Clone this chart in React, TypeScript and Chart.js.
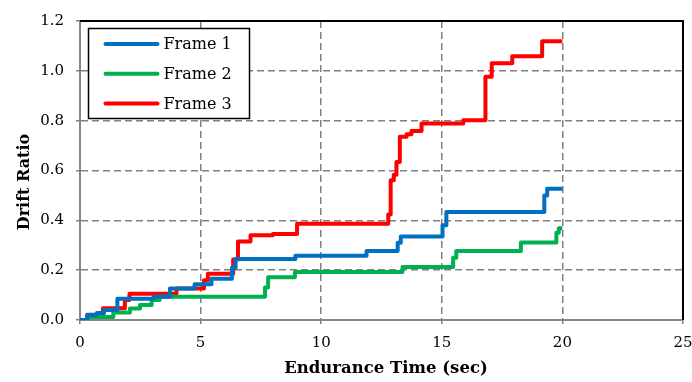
import { useEffect, useRef } from "react";
import { Chart, registerables } from "chart.js";

Chart.register(...registerables);

// ---- data ----
const seriesLabels = ["Frame 1", "Frame 2", "Frame 3"];
const seriesColors = ["#0070C0", "#00B050", "#FF0000"];

const frame1Times = [0, 0.3, 0.7, 1.0, 1.55, 3.05, 3.73, 4.75, 5.45, 6.3, 6.45, 8.93, 11.88, 13.17, 13.3, 15.03, 15.19, 19.25, 19.37, 20.0];
const frame1Values = [0, 0.02, 0.028, 0.04, 0.085, 0.093, 0.126, 0.143, 0.166, 0.21, 0.245, 0.258, 0.277, 0.31, 0.335, 0.38, 0.433, 0.5, 0.527, 0.527];

const frame2Times = [0, 0.3, 1.38, 2.07, 2.49, 2.97, 3.3, 7.67, 7.8, 8.91, 13.37, 15.47, 15.6, 18.28, 19.75, 19.85, 20.0];
const frame2Values = [0, 0.012, 0.03, 0.046, 0.06, 0.08, 0.093, 0.13, 0.172, 0.193, 0.213, 0.25, 0.277, 0.311, 0.35, 0.368, 0.368];

const frame3Times = [0, 0.3, 0.95, 1.86, 2.05, 4.0, 5.14, 5.3, 6.35, 6.55, 7.07, 8.0, 9.0, 12.78, 12.88, 13.01, 13.12, 13.26, 13.54, 13.74, 14.16, 15.89, 16.81, 17.07, 17.92, 19.16, 20.0];
const frame3Values = [0, 0.021, 0.047, 0.08, 0.105, 0.126, 0.16, 0.186, 0.243, 0.315, 0.34, 0.345, 0.386, 0.423, 0.561, 0.583, 0.634, 0.735, 0.745, 0.759, 0.789, 0.802, 0.976, 1.03, 1.059, 1.119, 1.119];

const xAxisMin = 0;
const xAxisMax = 25;
const xAxisStep = 5;
const yAxisMin = 0;
const yAxisMax = 1.2;
const yAxisStep = 0.2;
const xTitle = "Endurance Time (sec)";
const yTitle = "Drift Ratio";

const toPoints = (ts: number[], vs: number[]) => ts.map((t, i) => ({ x: t, y: vs[i] }));

const SERIF = '"DejaVu Serif", "Liberation Serif", serif';

const frameAndLegend = {
  id: "frameAndLegend",
  afterDraw(chart: any) {
    const { ctx, chartArea } = chart;
    ctx.save();
    // top and right black border
    ctx.strokeStyle = "#000";
    ctx.lineWidth = 2;
    ctx.beginPath();
    ctx.moveTo(chartArea.left, chartArea.top);
    ctx.lineTo(chartArea.right, chartArea.top);
    ctx.lineTo(chartArea.right, chartArea.bottom);
    ctx.stroke();

    // axis titles
    ctx.fillStyle = "#000";
    ctx.textAlign = "center";
    ctx.textBaseline = "middle";
    ctx.font = `bold 16.5px ${SERIF}`;
    ctx.fillText(xTitle, chartArea.left + 306, chartArea.bottom + 49);
    ctx.save();
    ctx.translate(24.5, chartArea.top + 161);
    ctx.rotate(-Math.PI / 2);
    ctx.font = `bold 16px ${SERIF}`;
    ctx.fillText(yTitle, 0, 0);
    ctx.restore();

    // legend inside plot area
    const x0 = chartArea.left + 8.5;
    const y0 = chartArea.top + 7.5;
    const w = 161;
    const h = 90;
    ctx.fillStyle = "#fff";
    ctx.fillRect(x0, y0, w, h);
    ctx.strokeStyle = "#000";
    ctx.lineWidth = 1.5;
    ctx.strokeRect(x0, y0, w, h);
    chart.data.datasets.forEach((ds: any, i: number) => {
      const y = y0 + 15.5 + i * 29.7;
      ctx.strokeStyle = ds.borderColor;
      ctx.lineWidth = 4;
      ctx.lineCap = "round";
      ctx.beginPath();
      ctx.moveTo(x0 + 17, y);
      ctx.lineTo(x0 + 69, y);
      ctx.stroke();
      ctx.fillStyle = "#000";
      ctx.font = `16px ${SERIF}`;
      ctx.textBaseline = "middle";
      ctx.textAlign = "left";
      ctx.fillText(ds.label, x0 + 75, y + 1);
    });
    ctx.restore();
  },
};

export default function App() {
  const canvasRef = useRef<HTMLCanvasElement | null>(null);

  useEffect(() => {
    if (!canvasRef.current) return;
    const series = [
      toPoints(frame1Times, frame1Values),
      toPoints(frame2Times, frame2Values),
      toPoints(frame3Times, frame3Values),
    ];
    const chart = new Chart(canvasRef.current, {
      type: "line",
      data: {
        datasets: series.map((pts, i) => ({
          label: seriesLabels[i],
          data: pts,
          borderColor: seriesColors[i],
          backgroundColor: seriesColors[i],
          borderWidth: 4,
          pointRadius: 0,
          stepped: true,
          fill: false,
          borderJoinStyle: "round" as const,
        })),
      },
      options: {
        responsive: false,
        animation: false,
        layout: { padding: { left: 0, top: 17, right: 9, bottom: 0 } },
        plugins: {
          legend: { display: false },
          tooltip: { enabled: false },
        },
        scales: {
          x: {
            type: "linear",
            min: xAxisMin,
            max: xAxisMax,
            ticks: {
              stepSize: xAxisStep,
              color: "#000",
              font: { family: SERIF, size: 15 },
              padding: 10,
            },
            grid: { color: "#808080", lineWidth: 1.5, tickLength: 4 },
            border: { color: "#868686", width: 2, dash: [7, 4] },
            title: { display: false },
            afterFit(scale: any) {
              scale.height = 62;
              scale.paddingRight = 0;
            },
          },
          y: {
            type: "linear",
            min: yAxisMin,
            max: yAxisMax,
            ticks: {
              stepSize: yAxisStep,
              color: "#000",
              font: { family: SERIF, size: 15 },
              padding: 12,
              callback: (v: any) => Number(v).toFixed(1),
            },
            grid: { color: "#808080", lineWidth: 1.5, tickLength: 4 },
            border: { color: "#868686", width: 2, dash: [7, 4] },
            title: { display: false },
            afterFit(scale: any) {
              scale.width = 80;
            },
          },
        },
      },
      plugins: [frameAndLegend],
    });
    return () => chart.destroy();
  }, []);

  return (
    <div style={{ position: "fixed", left: 0, top: 0, width: 692, height: 382, background: "#fff" }}>
      <canvas ref={canvasRef} width={692} height={382} style={{ width: 692, height: 382, display: "block" }} />
    </div>
  );
}
